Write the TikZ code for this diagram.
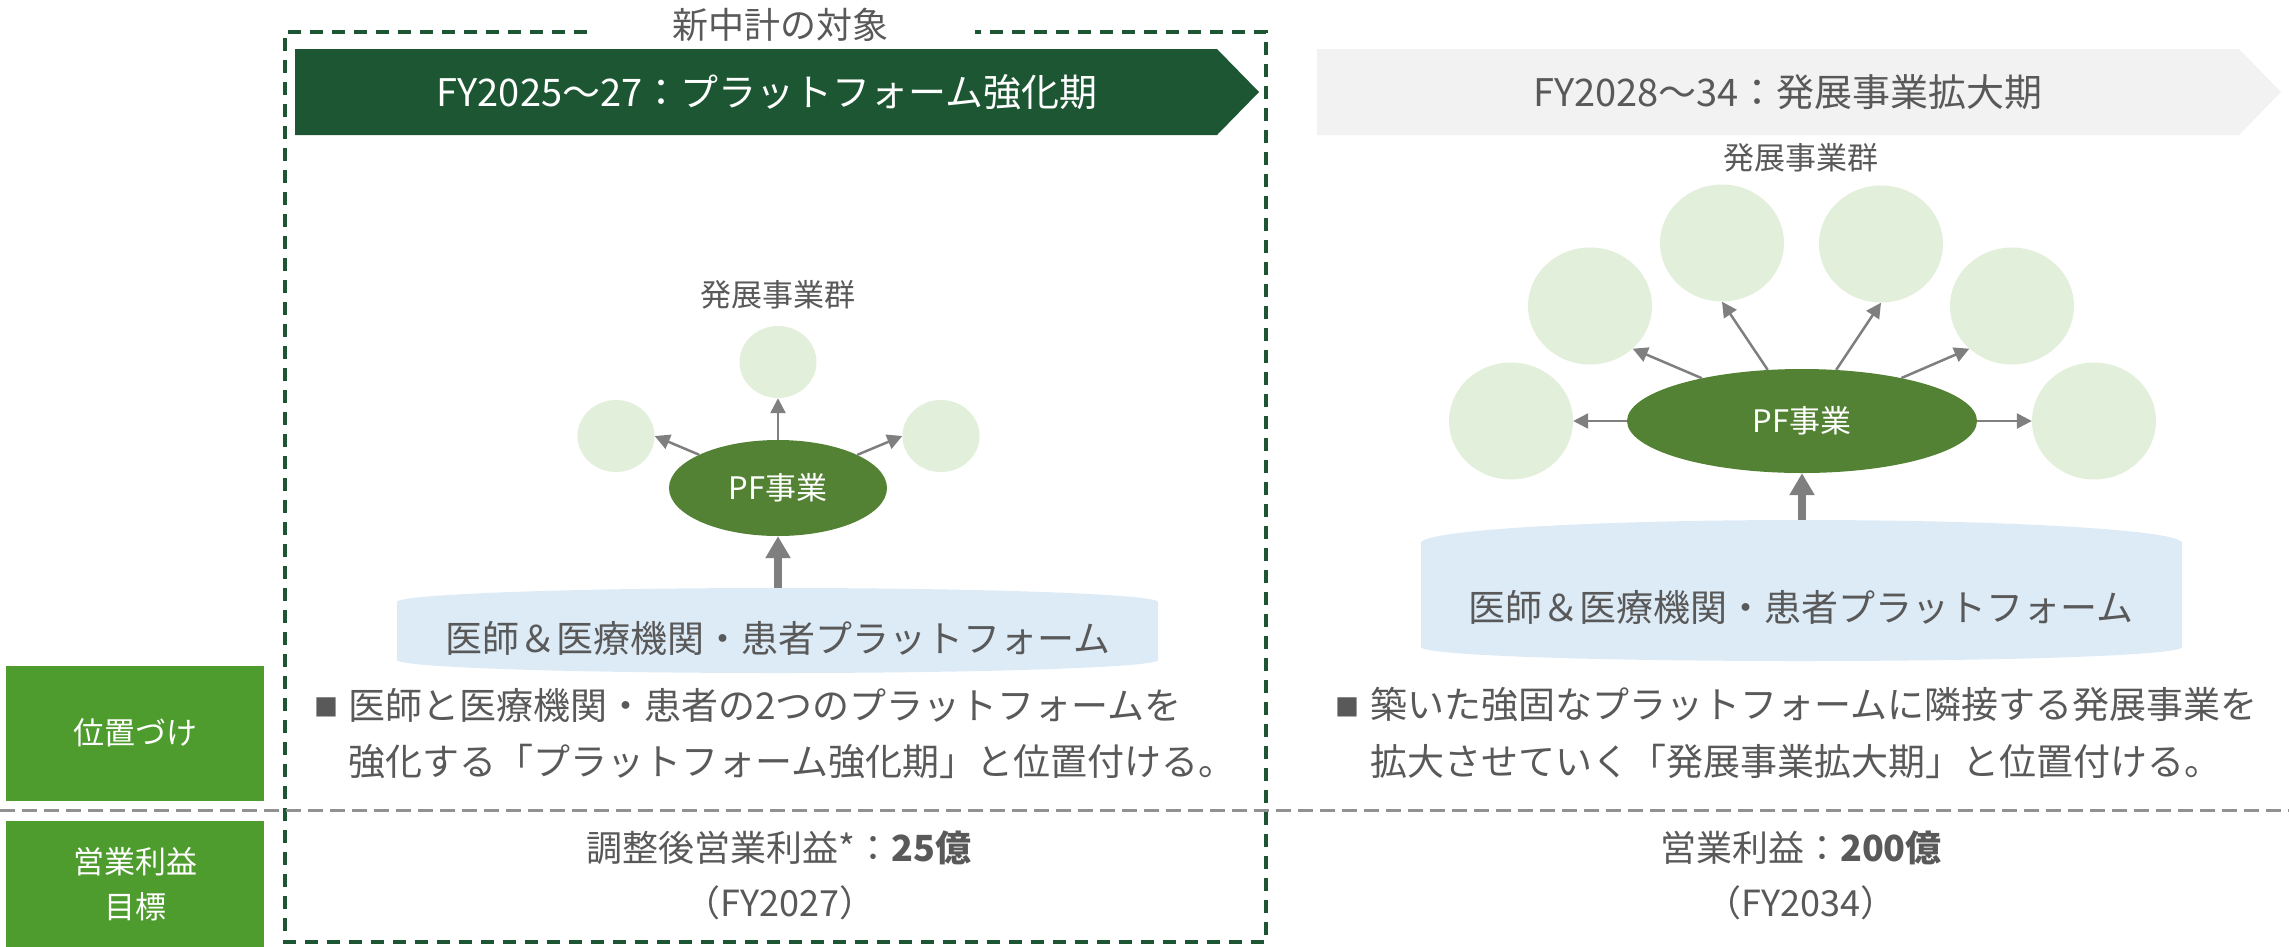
\documentclass[tikz,border=0pt]{standalone}
\usepackage{fontspec}
\setmainfont{Noto Sans CJK JP}
\usetikzlibrary{arrows.meta,shapes.geometric}
\definecolor{dkgreen}{RGB}{28,86,50}
\definecolor{pfgreen}{RGB}{84,130,53}
\definecolor{lblgreen}{RGB}{78,155,46}
\definecolor{ltgreen}{RGB}{226,239,218}
\definecolor{platblue}{RGB}{221,235,247}
\definecolor{hdgray}{RGB}{242,242,242}
\definecolor{txtgray}{RGB}{89,89,89}
\definecolor{arrgray}{RGB}{127,127,127}
\definecolor{dashgray}{RGB}{145,145,145}
\tikzset{
  txt/.style={inner sep=0pt, text=txtgray},
  f37/.style={font=\fontsize{37}{44}\selectfont},
  f38/.style={font=\fontsize{38}{46}\selectfont},
  f36/.style={font=\fontsize{36}{44}\selectfont},
  f31/.style={font=\fontsize{31}{45}\selectfont},
  bubble/.style={ellipse, fill=ltgreen, inner sep=0pt},
  pfnode/.style={ellipse, fill=pfgreen, inner sep=0pt, text=white, font=\fontsize{31}{38}\selectfont},
  thinarr/.style={draw=arrgray, line width=2.5pt, -{Triangle[length=15pt,width=15pt]}},
  thickarr/.style={draw=arrgray, line width=8pt, -{Triangle[length=22pt,width=24pt]}},
  lblbox/.style={rectangle, fill=lblgreen, inner sep=0pt, minimum width=258pt, text=white, align=center, font=\fontsize{31}{45}\selectfont},
}
\begin{document}
\begin{tikzpicture}[x=1pt,y=-1pt]
\useasboundingbox (0,0) rectangle (2289,946);

% header arrows
\fill[dkgreen] (295,49) -- (1217,49) -- (1259,92) -- (1217,135) -- (295,135) -- cycle;
\node[txt, f38, text=white] (h1) at (767,92) {FY2025～27：プラットフォーム強化期};
\fill[hdgray] (1317,49) -- (2239,49) -- (2281,92) -- (2239,135) -- (1317,135) -- cycle;
\node[txt, f38] (h2) at (1788,92) {FY2028～34：発展事業拡大期};

% dashed frame
\node[txt, f36] (ttl) at (780,25) {新中計の対象};
\draw[dkgreen, line width=3.5pt, dash pattern=on 13pt off 9pt]
  (587,32) -- (285,32) -- (285,942) -- (1266,942) -- (1266,32) -- (975,32);

% horizontal divider
\draw[dashgray, line width=3pt, dash pattern=on 15pt off 7pt] (0,810) -- (2289,810);

% label boxes
\node[lblbox, minimum height=135pt] (lb1) at (135,733) {位置づけ};
\node[lblbox, minimum height=126pt] (lb2) at (135,884) {営業利益\\目標};

% ---------- left diagram ----------
\node[txt, f31] (g1) at (778,295) {発展事業群};
\node[bubble, minimum width=77pt, minimum height=72pt] (t1) at (778,362) {};
\node[bubble, minimum width=77pt, minimum height=72pt] (l1) at (616,436) {};
\node[bubble, minimum width=77pt, minimum height=72pt] (r1) at (941,436) {};
\node[pfnode, minimum width=218pt, minimum height=96pt] (pf1) at (778,488) {PF事業};
\draw[thinarr] (pf1) -- (t1.south);
\draw[thinarr] (pf1) -- (l1.east);
\draw[thinarr] (pf1) -- (r1.west);

\fill[platblue] (397,602) .. controls (397,594.3) and (567.3,588) .. (777.5,588)
  .. controls (987.7,588) and (1158,594.3) .. (1158,602) -- (1158,660)
  .. controls (1158,667.2) and (987.7,673) .. (777.5,673)
  .. controls (567.3,673) and (397,667.2) .. (397,660) -- cycle;
\node[txt, f37] (plat1) at (778,638) {医師＆医療機関・患者プラットフォーム};
\coordinate (b1) at (778,588);
\draw[thickarr] (b1) -- (pf1);

% ---------- right diagram ----------
\node[txt, f31] (g2) at (1801,158) {発展事業群};
\node[bubble, minimum width=124pt, minimum height=117pt] (c1) at (1511,421) {};
\node[bubble, minimum width=124pt, minimum height=117pt] (c2) at (1590,306) {};
\node[bubble, minimum width=124pt, minimum height=117pt] (c3) at (1722,243) {};
\node[bubble, minimum width=124pt, minimum height=117pt] (c4) at (1881,244) {};
\node[bubble, minimum width=124pt, minimum height=117pt] (c5) at (2012,306) {};
\node[bubble, minimum width=124pt, minimum height=117pt] (c6) at (2094,421) {};
\node[pfnode, minimum width=350pt, minimum height=104pt] (pf2) at (1802,421) {PF事業};
\draw[thinarr] (pf2) -- (c1.east);
\draw[thinarr] (pf2) -- (c2.-45);
\draw[thinarr] (pf2) -- (c3.south);
\draw[thinarr] (pf2) -- (c4.south);
\draw[thinarr] (pf2) -- (c5.-135);
\draw[thinarr] (pf2) -- (c6.west);

\fill[platblue] (1421,543) .. controls (1421,530.3) and (1591.3,520) .. (1801.5,520)
  .. controls (2011.7,520) and (2182,530.3) .. (2182,543) -- (2182,647)
  .. controls (2182,655.3) and (2011.7,661) .. (1801.5,661)
  .. controls (1591.3,661) and (1421,655.3) .. (1421,647) -- cycle;
\node[txt, f37] (plat2) at (1801,607) {医師＆医療機関・患者プラットフォーム};
\coordinate (b2) at (1802,520);
\draw[thickarr] (b2) -- (pf2);

% ---------- bullets ----------
\node[txt, font=\fontsize{24}{28}\selectfont] (sq1) at (326,707) {■};
\node[txt, f37, anchor=west] (bl1a) at (348,705) {医師と医療機関・患者の2つのプラットフォームを};
\node[txt, f37, anchor=west] (bl1b) at (348,761) {強化する「プラットフォーム強化期」と位置付ける。};
\node[txt, font=\fontsize{24}{28}\selectfont] (sq2) at (1347,707) {■};
\node[txt, f37, anchor=west] (bl2a) at (1370,705) {築いた強固なプラットフォームに隣接する発展事業を};
\node[txt, f37, anchor=west] (bl2b) at (1370,761) {拡大させていく「発展事業拡大期」と位置付ける。};

% ---------- targets ----------
\node[txt, f36] (tg1) at (779,848) {調整後営業利益*：\textbf{25億}};
\node[txt, f36] (fy1) at (780,903) {（FY2027）};
\node[txt, f36] (tg2) at (1801,848) {営業利益：\textbf{200億}};
\node[txt, f36] (fy2) at (1801,903) {（FY2034）};
\end{tikzpicture}
\end{document}
